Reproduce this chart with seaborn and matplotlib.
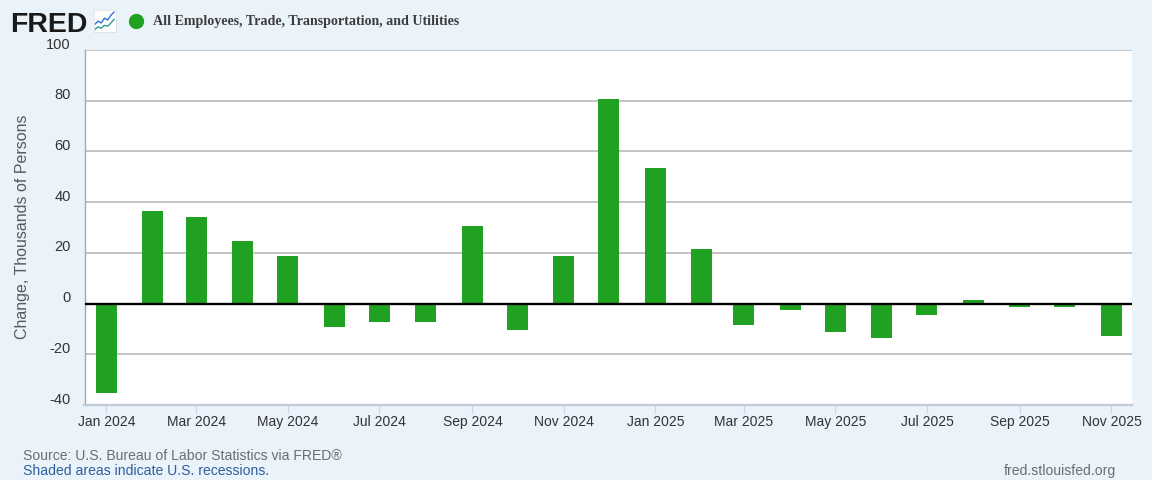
#!/usr/bin/env python3
"""FRED column chart: monthly change in trade, transportation and utilities employment"""

import matplotlib
matplotlib.use('Agg')
import matplotlib.dates as mdates
import matplotlib.pyplot as plt
import matplotlib.transforms as mtrans
import pandas as pd
import seaborn as sns
from matplotlib.lines import Line2D

months = pd.date_range('2024-01-01', '2025-11-01', freq='MS')
changes = [-35.4, 36.5, 34.3, 24.6, 18.6, -9.4, -7.4, -7.4, 30.5, -10.6, 18.7, 80.5,
           53.4, 21.5, -8.6, -2.6, -11.2, -13.6, -4.6, 1.3, -1.3, -1.3, -12.6]
y_ticks = [-40, -20, 0, 20, 40, 60, 80, 100]
x_ticks = ['2024-01-01', '2024-03-01', '2024-05-01', '2024-07-01', '2024-09-01', '2024-11-01',
           '2025-01-01', '2025-03-01', '2025-05-01', '2025-07-01', '2025-09-01', '2025-11-01']

W, H = 1152, 480
BG = '#eaf2fa'
GREEN = '#20a122'

sns.set_theme(style='white')
plt.rcParams['font.family'] = ['Liberation Sans', 'DejaVu Sans']
plt.rcParams['axes.unicode_minus'] = False

fig = plt.figure(figsize=(W / 100, H / 100), dpi=100, facecolor=BG)
ax = fig.add_axes([84.5 / W, 1 - 405 / H, (1132 - 84.5) / W, (405 - 50) / H])
ax.set_facecolor('white')

df = pd.DataFrame({'date': mdates.date2num(months), 'change': changes})
sns.barplot(data=df, x='date', y='change', native_scale=True, width=0.5,
            color=GREEN, saturation=1, linewidth=0, ax=ax, zorder=3)

ax.set_xlim(mdates.date2num(pd.Timestamp('2023-12-17 08:00')), mdates.date2num(pd.Timestamp('2025-11-14 16:00')))
ax.set_ylim(-40, 100)
ax.set_xlabel('')
ax.set_ylabel('')

# grid, zero line
ax.grid(axis='y', color='#bfbfbf', linewidth=1.3, zorder=1)
ax.grid(axis='x', visible=False)
ax.axhline(0, color='black', linewidth=1.7, zorder=4)
for side in ['top', 'right']:
    ax.spines[side].set_visible(False)
ax.spines['left'].set_color('#a6a6a6')
ax.spines['left'].set_linewidth(1.0)
ax.spines['bottom'].set_color('#c3cad6')
ax.spines['bottom'].set_linewidth(1.6)

ax.set_yticks(y_ticks)
ax.set_xticks(mdates.date2num(pd.to_datetime(x_ticks)))
ax.set_xticklabels([pd.Timestamp(d).strftime('%b %Y') for d in x_ticks])
ax.tick_params(axis='y', length=0, pad=10, labelsize=10.5, labelcolor='#333333')
ax.tick_params(axis='x', bottom=True, length=5.5, width=0.8, color='#ccd6eb', pad=1.5, labelsize=10, labelcolor='#333333')
# labels sit a little above their grid lines
shift = mtrans.ScaledTranslation(0, 5 / 72, fig.dpi_scale_trans)
for lab in ax.get_yticklabels():
    lab.set_transform(lab.get_transform() + shift)
    lab.set_horizontalalignment('right')

fig.text(22.5 / W, 1 - 227 / H, 'Change, Thousands of Persons', rotation=90, ha='center', va='center',
         fontsize=11.5, color='#595959')

# header
fig.text(10 / W, 1 - 32 / H, 'FRED', fontsize=20.5, fontweight='bold', color='#1a1a1a', va='baseline', ha='left')
fig.add_artist(Line2D([135.5 / W], [1 - 20.5 / H], marker='o', markersize=10, color=GREEN, linestyle='none'))
fig.text(153 / W, 1 - 21 / H, 'All Employees, Trade, Transportation, and Utilities', family='Liberation Serif',
         fontweight='bold', fontsize=10.05, color='#3d3d3d', va='center', ha='left')

# little logo chart
icon = fig.add_axes([93.5 / W, 1 - 31.5 / H, 22 / W, 21.5 / H], facecolor='white')
icon.plot([0, 1, 2, 3, 4, 5, 6], [3.5, 5, 4.2, 6.5, 5.6, 8, 9.5], color='#2f6fd6', lw=1)
icon.plot([0, 1, 2, 3, 4, 5, 6], [1, 2.2, 1.6, 3, 2.6, 4.2, 6], color='#2a9d8f', lw=1)
icon.set_xlim(-0.4, 6.4)
icon.set_ylim(0, 10.5)
icon.set_xticks([])
icon.set_yticks([])
for s in icon.spines.values():
    s.set_color('#dddddd')
    s.set_linewidth(0.5)

# footer
fig.text(23 / W, 1 - 456 / H, 'Source: U.S. Bureau of Labor Statistics via FRED®', fontsize=10.1,
         color='#6e6e6e', va='center', ha='left')
fig.text(23 / W, 1 - 471 / H, 'Shaded areas indicate U.S. recessions.', fontsize=10.05,
         color='#2f5f9e', va='center', ha='left')
fig.text(1116 / W, 1 - 471 / H, 'fred.stlouisfed.org', fontsize=10.1,
         color='#6e6e6e', va='center', ha='right')

fig.savefig('out.png', dpi=100, facecolor=BG)
